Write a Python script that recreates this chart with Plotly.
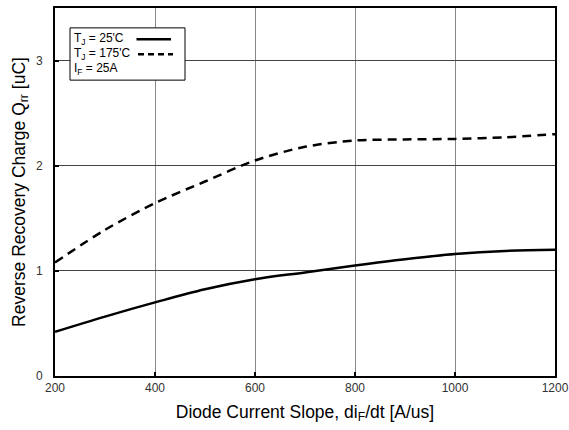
import plotly.graph_objects as go

di_dt = [200, 300, 400, 500, 600, 700, 800, 900, 1000, 1100, 1200]
qrr_25 = [0.42, 0.565, 0.70, 0.825, 0.92, 0.985, 1.05, 1.11, 1.16, 1.19, 1.20]
qrr_175 = [1.08, 1.39, 1.645, 1.85, 2.05, 2.18, 2.24, 2.25, 2.255, 2.27, 2.30]
x_ticks = [200, 400, 600, 800, 1000, 1200]
y_ticks = [0, 1, 2, 3]

FONT = "Liberation Sans, Arial, sans-serif"

fig = go.Figure()
fig.add_trace(go.Scatter(x=di_dt, y=qrr_25, mode="lines", name="TJ = 25'C",
                         line=dict(color="black", width=2.5, shape="spline", smoothing=1.0),
                         showlegend=False))
fig.add_trace(go.Scatter(x=di_dt, y=qrr_175, mode="lines", name="TJ = 175'C",
                         line=dict(color="black", width=2.5, dash="9px,6px", shape="spline", smoothing=0.8),
                         showlegend=False))

# custom legend box
fig.add_shape(type="rect", xref="paper", yref="paper", x0=0.03, x1=0.26, y0=0.804, y1=0.946,
              line=dict(color="black", width=1), fillcolor="white", layer="above")
fig.add_shape(type="line", xref="paper", yref="paper", x0=0.163, x1=0.232, y0=0.915, y1=0.915,
              line=dict(color="black", width=2.5), layer="above")
fig.add_shape(type="line", xref="paper", yref="paper", x0=0.166, x1=0.236, y0=0.874, y1=0.874,
              line=dict(color="black", width=2.5, dash="6px,4px"), layer="above")
legend_lines = ["T<sub>J</sub> = 25'C", "T<sub>J</sub> = 175'C", "I<sub>F</sub> = 25A"]
for i, t in enumerate(legend_lines):
    fig.add_annotation(text=t, xref="paper", yref="paper", x=0.034, y=0.917 - i * 0.041,
                       xanchor="left", yanchor="middle", showarrow=False,
                       font=dict(family=FONT, size=12, color="black"))

fig.update_layout(
    width=569, height=430,
    margin=dict(l=55, r=14, t=8, b=54),
    plot_bgcolor="white", paper_bgcolor="white",
    font=dict(family=FONT, color="black"),
    xaxis=dict(range=[200, 1200], tickvals=x_ticks, ticks="inside", ticklen=4, tickwidth=2,
               tickcolor="black", showgrid=True, gridcolor="#888", gridwidth=1,
               showline=True, linecolor="black", linewidth=2, mirror=True, zeroline=False,
               tickfont=dict(size=12, color="#333"), automargin=False,
               title=dict(text="Diode Current Slope, di<sub>F</sub>/dt [A/us]",
                          font=dict(size=17.5), standoff=11)),
    yaxis=dict(range=[0, 3.5], tickvals=y_ticks, ticks="inside", ticklen=4, tickwidth=2,
               tickcolor="black", showgrid=True, gridcolor="#444", gridwidth=1,
               showline=True, linecolor="black", linewidth=2, mirror=True, zeroline=False,
               tickfont=dict(size=12, color="#333"), automargin=False, ticklabelstandoff=8,
               title=dict(text="Reverse Recovery Charge Q<sub>rr</sub> [uC]",
                          font=dict(size=17.5), standoff=6)),
)

fig.write_html("out.html")
